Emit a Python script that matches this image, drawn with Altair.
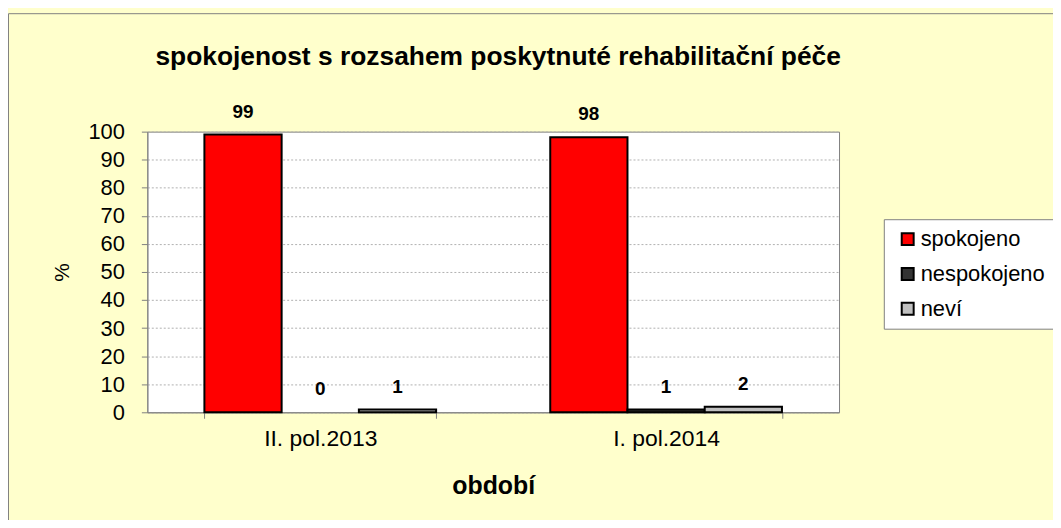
import altair as alt
import pandas as pd

periods = ["II. pol.2013", "I. pol.2014"]
responses = ["spokojeno", "nespokojeno", "neví"]
values_2013 = [99, 0, 1]
values_2014 = [98, 1, 2]
colors = ["#FF0000", "#333333", "#C0C0C0"]
y_ticks = [0, 10, 20, 30, 40, 50, 60, 70, 80, 90, 100]

rows = []
for p, vals in zip(periods, [values_2013, values_2014]):
    for r, v in zip(responses, vals):
        rows.append({"období": p, "odpověď": r, "procento": v})
df = pd.DataFrame(rows)

W, H = 695, 282
FONT = "Liberation Sans"
PAD_L, PAD_T = 140, 123
TOTAL_W, TOTAL_H = 1050, 512

x = alt.X(
    "období:N", sort=periods, title="období",
    scale=alt.Scale(paddingInner=0.33, paddingOuter=0.165),
    axis=alt.Axis(labelAngle=0, labelFontSize=23, labelColor="black", labelFont=FONT,
                  labelPadding=9, tickBand="extent", tickSize=6, tickColor="#808080",
                  domainColor="#808080", titleFontSize=25, titleFontWeight="bold",
                  titleFont=FONT, titlePadding=24, titleColor="black"),
)
xo = alt.XOffset("odpověď:N", sort=responses,
                 scale=alt.Scale(domain=responses, paddingInner=0, paddingOuter=0))
y = alt.Y(
    "procento:Q", title="%",
    scale=alt.Scale(domain=[0, 100], nice=False),
    axis=alt.Axis(values=y_ticks, labelFontSize=22, labelColor="black", labelFont=FONT,
                  labelPadding=17, tickSize=6, tickColor="#808080", domainColor="#808080",
                  gridColor="#B0B0B0", gridDash=[2, 2], gridWidth=1,
                  titleFontSize=21, titleFontWeight="normal", titleFont=FONT,
                  titleColor="black", titlePadding=16),
)
color = alt.Color(
    "odpověď:N", sort=responses,
    scale=alt.Scale(domain=responses, range=colors),
    legend=alt.Legend(title=None, orient="none", legendX=740, legendY=88,
                      symbolType="square", symbolSize=144, symbolStrokeColor="black",
                      symbolStrokeWidth=2, labelFontSize=22, labelFont=FONT,
                      labelColor="black", labelOffset=2, fillColor="white",
                      strokeColor="#808080", padding=9, rowPadding=13, symbolOffset=4),
)

base = alt.Chart(df)
bars = base.mark_bar(stroke="black").encode(
    x=x, xOffset=xo, y=y, color=color,
    strokeWidth=alt.condition(alt.datum.procento > 0, alt.value(2), alt.value(0)))
labels = base.mark_text(baseline="alphabetic", dy=-17, fontSize=19, fontWeight="bold",
                        font=FONT, color="black").encode(
    x=x, xOffset=xo, y=y, text=alt.Text("procento:Q", format="d"))

frame = alt.Chart(alt.Data(values=[{}])).mark_rect(
    fillOpacity=0, stroke="#808080", strokeWidth=1).encode(
    x=alt.value(-PAD_L + 0.5), x2=alt.value(TOTAL_W),
    y=alt.value(-PAD_T + 4.5), y2=alt.value(TOTAL_H))

chart = alt.layer(frame, bars, labels).properties(
    width=W, height=H,
    title=alt.TitleParams("spokojenost s rozsahem poskytnuté rehabilitační péče",
                          fontSize=26.5, fontWeight="bold", font=FONT, color="black",
                          anchor="middle", frame="group", offset=-58, dx=5),
    autosize=alt.AutoSizeParams(type="none"),
    padding={"left": PAD_L, "top": PAD_T, "right": TOTAL_W - PAD_L - W,
             "bottom": TOTAL_H - PAD_T - H},
    background="#FFFFCC",
).configure_view(stroke="#808080", fill="white")

chart.save("out.html", embed_options={"renderer": "svg", "actions": False})
